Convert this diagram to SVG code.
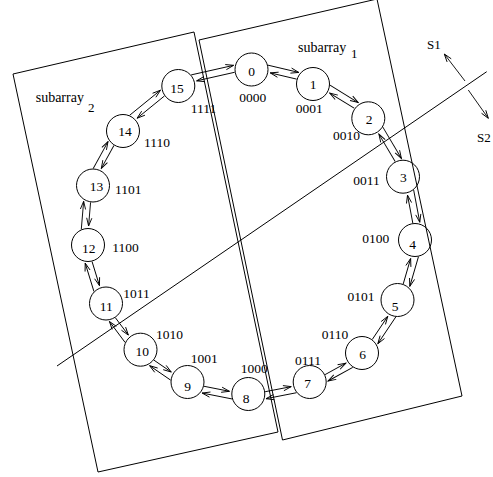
<svg xmlns="http://www.w3.org/2000/svg" width="493" height="477" viewBox="0 0 493 477">
<style>
  text { font-family: "Liberation Serif", "Times New Roman", serif; fill: #000; }
  .n circle { fill: none; stroke: #000; stroke-width: 1; }
  .num { font-size: 13.5px; text-anchor: middle; }
  .lbl { font-size: 13.5px; }
  .frame { fill: none; stroke: #000; stroke-width: 1; }
  .c line { stroke: #000; stroke-width: 0.9; fill: none; marker-end: url(#ah); }
  .title { font-size: 14px; }
  .sub { font-size: 13px; }
</style>
<defs>
  <marker id="ah" viewBox="-9 -4 10 8" refX="0" refY="0" markerWidth="10" markerHeight="8" markerUnits="userSpaceOnUse" orient="auto">
    <path d="M-8,-2.6 L0,0 L-8,2.6" fill="none" stroke="#000" stroke-width="0.9"/>
  </marker>
</defs>
<rect x="0" y="0" width="493" height="477" fill="#fff"/>

<g id="frames">
  <polygon id="subarray1-frame" class="frame" points="199,40 377,-1 462,396 282.5,440"/>
  <polygon id="subarray2-frame" class="frame" points="13,74 194,32 278,432 98,472"/>
  <line x1="486.7" y1="71.7" x2="57" y2="366" stroke="#000" stroke-width="1"/>
</g>

<g id="S-arrows" class="c">
  <line x1="465" y1="81" x2="444.3" y2="54"/>
  <line x1="468.3" y1="90" x2="488.3" y2="118.3"/>
</g>
<text class="sub" x="427" y="49">S1</text>
<text class="sub" x="477" y="142.3">S2</text>

<text class="title" x="298" y="52">subarray</text>
<text class="sub" x="351" y="57.5">1</text>
<text class="title" x="35.7" y="101.7">subarray</text>
<text class="sub" x="88" y="112.3">2</text>

<g id="connectors" class="c">
  <g transform="translate(251.5,69.5) rotate(13.27)"><line x1="15" y1="-8" x2="46.7" y2="-8"/><line x1="46.2" y1="-1" x2="19" y2="-1"/></g>
  <g transform="translate(313,84) rotate(31.72)"><line x1="15" y1="-8" x2="48.2" y2="-8"/><line x1="47.7" y1="-1" x2="19" y2="-1"/></g>
  <g transform="translate(368.3,118.3) rotate(59.28)"><line x1="15" y1="-8" x2="51.4" y2="-8"/><line x1="50.9" y1="-1" x2="19" y2="-1"/></g>
  <g transform="translate(403,176.7) rotate(79.27)"><line x1="15" y1="-8" x2="47.9" y2="-8"/><line x1="47.4" y1="-1" x2="19" y2="-1"/></g>
  <g transform="translate(415,240) rotate(106.26)"><line x1="15" y1="-8" x2="46" y2="-8"/><line x1="45.5" y1="-1" x2="19" y2="-1"/></g>
  <g transform="translate(397.5,300) rotate(123.81)"><line x1="15" y1="-8" x2="47.3" y2="-8"/><line x1="46.8" y1="-1" x2="19" y2="-1"/></g>
  <g transform="translate(362,353) rotate(150.99)"><line x1="15" y1="-8" x2="43.3" y2="-8"/><line x1="42.8" y1="-1" x2="19" y2="-1"/></g>
  <g transform="translate(309.7,382) rotate(168.94)"><line x1="15" y1="-8" x2="46.1" y2="-8"/><line x1="45.6" y1="-1" x2="19" y2="-1"/></g>
  <g transform="translate(248.3,394) rotate(191.16)"><line x1="15" y1="-8" x2="45.5" y2="-8"/><line x1="45" y1="-1" x2="19" y2="-1"/></g>
  <g transform="translate(187.5,382) rotate(214.5)"><line x1="15" y1="-8" x2="40.5" y2="-8"/><line x1="40" y1="-1" x2="19" y2="-1"/></g>
  <g transform="translate(140.5,349.7) rotate(233.25)"><line x1="15" y1="-8" x2="41.2" y2="-8"/><line x1="40.7" y1="-1" x2="19" y2="-1"/></g>
  <g transform="translate(106,303.5) rotate(252.9)"><line x1="15" y1="-8" x2="44.7" y2="-8"/><line x1="44.2" y1="-1" x2="19" y2="-1"/></g>
  <g transform="translate(88,245) rotate(274.8)"><line x1="15" y1="-8" x2="43.2" y2="-8"/><line x1="42.7" y1="-1" x2="19" y2="-1"/></g>
  <g transform="translate(93,185.5) rotate(298.83)"><line x1="15" y1="-8" x2="45.7" y2="-8"/><line x1="45.2" y1="-1" x2="19" y2="-1"/></g>
  <g transform="translate(123,131) rotate(320.86)"><line x1="15" y1="-8" x2="54.8" y2="-8"/><line x1="54.3" y1="-1" x2="19" y2="-1"/></g>
  <g transform="translate(178.3,86) rotate(347.3)"><line x1="15" y1="-8" x2="58.5" y2="-8"/><line x1="58" y1="-1" x2="19" y2="-1"/></g>
</g>

<g id="node0" class="n"><circle cx="251.5" cy="69.5" r="16.5"/><text class="num" x="251.7" y="76">0</text><text class="lbl" x="239.3" y="101.7">0000</text></g>
<g id="node1" class="n"><circle cx="313" cy="84" r="16.5"/><text class="num" x="313" y="89.3">1</text><text class="lbl" x="295.7" y="113.3">0001</text></g>
<g id="node2" class="n"><circle cx="368.3" cy="118.3" r="16.5"/><text class="num" x="369" y="124">2</text><text class="lbl" x="333" y="140">0010</text></g>
<g id="node3" class="n"><circle cx="403" cy="176.7" r="16.5"/><text class="num" x="403.3" y="181.7">3</text><text class="lbl" x="353.3" y="185">0011</text></g>
<g id="node4" class="n"><circle cx="415" cy="240" r="16.5"/><text class="num" x="412.5" y="249.3">4</text><text class="lbl" x="362.3" y="243.3">0100</text></g>
<g id="node5" class="n"><circle cx="397.5" cy="300" r="16.5"/><text class="num" x="395" y="310.7">5</text><text class="lbl" x="347.5" y="300.7">0101</text></g>
<g id="node6" class="n"><circle cx="362" cy="353" r="16.5"/><text class="num" x="362.7" y="359.3">6</text><text class="lbl" x="321.7" y="339.3">0110</text></g>
<g id="node7" class="n"><circle cx="309.7" cy="382" r="16.5"/><text class="num" x="307.7" y="388.3">7</text><text class="lbl" x="295" y="365">0111</text></g>
<g id="node8" class="n"><circle cx="248.3" cy="394" r="16.5"/><text class="num" x="246" y="402.7">8</text><text class="lbl" x="240.7" y="372.7">1000</text></g>
<g id="node9" class="n"><circle cx="187.5" cy="382" r="16.5"/><text class="num" x="187.5" y="390.7">9</text><text class="lbl" x="190.7" y="362.7">1001</text></g>
<g id="node10" class="n"><circle cx="140.5" cy="349.7" r="16.5"/><text class="num" x="142.2" y="356">10</text><text class="lbl" x="156" y="339.3">1010</text></g>
<g id="node11" class="n"><circle cx="106" cy="303.5" r="16.5"/><text class="num" x="106.3" y="311">11</text><text class="lbl" x="123.3" y="297.7">1011</text></g>
<g id="node12" class="n"><circle cx="88" cy="245" r="16.5"/><text class="num" x="88.8" y="252.7">12</text><text class="lbl" x="112.3" y="251.7">1100</text></g>
<g id="node13" class="n"><circle cx="93" cy="185.5" r="16.5"/><text class="num" x="96.5" y="190.7">13</text><text class="lbl" x="115" y="194.3">1101</text></g>
<g id="node14" class="n"><circle cx="123" cy="131" r="16.5"/><text class="num" x="125" y="136">14</text><text class="lbl" x="144" y="147.3">1110</text></g>
<g id="node15" class="n"><circle cx="178.3" cy="86" r="16.5"/><text class="num" x="177" y="92.7">15</text><text class="lbl" x="190.7" y="113.3">1111</text></g>
</svg>
